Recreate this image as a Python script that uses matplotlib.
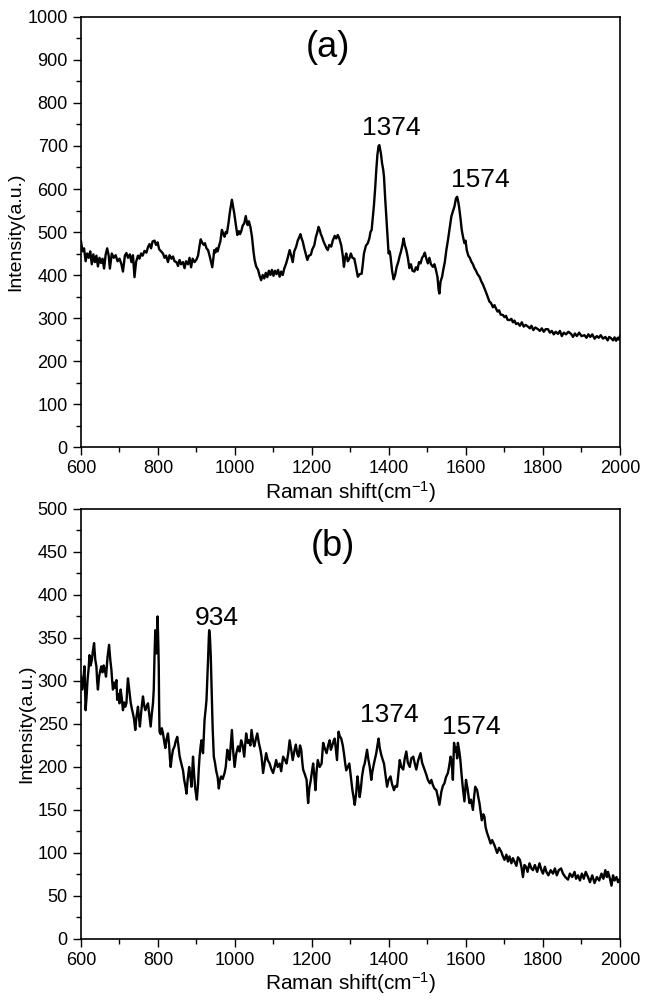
import matplotlib
matplotlib.use("Agg")
import matplotlib.pyplot as plt
from matplotlib.ticker import MultipleLocator

plt.rcParams['font.family'] = ['Liberation Sans', 'DejaVu Sans']
plt.rcParams['mathtext.default'] = 'regular'

# spectrum (a): Raman shift (cm-1), intensity (a.u.)
shift_a = [600, 604, 608, 612, 616, 620, 624, 628, 632, 636, 640, 644, 648, 652, 656, 660, 664, 668, 672, 675,
           680, 685, 690, 695, 700, 705, 709, 714, 718, 722, 727, 731, 735, 739, 743, 748, 752, 756, 760, 765,
           770, 774, 778, 782, 786, 791, 795, 799, 803, 808, 813, 817, 821, 826, 830, 835, 839, 843, 848, 852,
           856, 860, 865, 869, 873, 878, 882, 886, 890, 895, 900, 904, 908, 911, 915, 919, 922, 926, 930, 934,
           938, 941, 944, 946, 949, 952, 955, 958, 962, 966, 970, 973, 976, 979, 983, 987, 990, 992, 995, 998,
           1001, 1004, 1006, 1010, 1013, 1016, 1020, 1024, 1028, 1031, 1033, 1036, 1040, 1044, 1048, 1051, 1055, 1060, 1064, 1068,
           1072, 1076, 1080, 1084, 1088, 1092, 1096, 1100, 1104, 1108, 1112, 1116, 1120, 1124, 1128, 1133, 1137, 1142, 1146, 1150,
           1154, 1159, 1163, 1167, 1170, 1173, 1176, 1180, 1184, 1188, 1192, 1197, 1201, 1206, 1210, 1214, 1217, 1220, 1223, 1226,
           1230, 1234, 1238, 1241, 1245, 1250, 1254, 1259, 1263, 1267, 1271, 1276, 1280, 1283, 1286, 1289, 1293, 1297, 1301, 1305,
           1310, 1314, 1319, 1324, 1329, 1332, 1335, 1340, 1345, 1349, 1352, 1355, 1358, 1361, 1364, 1367, 1370, 1373, 1375, 1377,
           1379, 1382, 1385, 1387, 1390, 1393, 1396, 1399, 1402, 1404, 1408, 1412, 1416, 1420, 1424, 1428, 1431, 1435, 1438, 1441,
           1445, 1449, 1453, 1457, 1461, 1466, 1470, 1474, 1478, 1482, 1486, 1490, 1493, 1497, 1501, 1505, 1509, 1514, 1518, 1522,
           1526, 1529, 1531, 1534, 1538, 1541, 1545, 1549, 1553, 1557, 1562, 1566, 1570, 1574, 1577, 1580, 1582, 1586, 1589, 1592,
           1596, 1599, 1602, 1606, 1610, 1614, 1618, 1622, 1626, 1630, 1635, 1640, 1644, 1648, 1652, 1656, 1661, 1665, 1670, 1674,
           1678, 1682, 1686, 1690, 1696, 1700, 1704, 1708, 1713, 1718, 1722, 1726, 1730, 1735, 1740, 1745, 1750, 1755, 1761, 1766,
           1770, 1775, 1780, 1787, 1792, 1797, 1802, 1807, 1813, 1818, 1823, 1828, 1833, 1839, 1844, 1849, 1854, 1860, 1866, 1873,
           1878, 1883, 1888, 1894, 1900, 1908, 1913, 1918, 1923, 1928, 1934, 1940, 1945, 1950, 1956, 1962, 1968, 1972, 1977, 1982,
           1986, 1990, 1994, 1997, 2000]
int_a = [478, 455, 462, 432, 450, 440, 455, 425, 448, 430, 445, 420, 440, 428, 438, 415, 447, 462, 445, 415,
         450, 440, 446, 432, 438, 425, 408, 445, 451, 440, 448, 430, 446, 395, 430, 445, 438, 450, 445, 456,
         452, 465, 472, 462, 478, 480, 470, 476, 460, 455, 450, 440, 445, 430, 446, 438, 443, 432, 430, 421,
         435, 425, 430, 416, 432, 425, 440, 418, 438, 430, 436, 445, 468, 483, 475, 470, 474, 462, 458, 445,
         430, 418, 440, 458, 452, 462, 455, 466, 478, 505, 495, 489, 500, 497, 520, 548, 565, 575, 560, 544,
         525, 505, 493, 502, 495, 501, 515, 520, 537, 522, 516, 525, 512, 490, 455, 435, 420, 412, 398, 388,
         400, 392, 405, 395, 410, 400, 412, 398, 410, 402, 412, 396, 408, 400, 415, 427, 440, 458, 445, 430,
         455, 466, 480, 488, 495, 485, 478, 462, 448, 435, 445, 447, 460, 469, 488, 500, 512, 505, 495, 489,
         478, 470, 462, 458, 470, 466, 480, 491, 485, 493, 485, 469, 445, 419, 440, 450, 432, 438, 450, 440,
         438, 420, 396, 402, 403, 425, 450, 468, 474, 485, 500, 505, 535, 563, 600, 644, 680, 700, 702, 692,
         683, 660, 645, 629, 580, 536, 490, 450, 455, 443, 410, 390, 400, 419, 430, 445, 454, 470, 485, 470,
         458, 440, 416, 425, 410, 408, 418, 412, 430, 427, 440, 445, 452, 438, 427, 440, 425, 419, 425, 412,
         395, 365, 357, 385, 396, 412, 430, 458, 480, 505, 536, 548, 559, 578, 582, 570, 559, 530, 505, 490,
         474, 480, 458, 445, 440, 431, 425, 416, 410, 402, 396, 385, 378, 369, 360, 350, 338, 335, 325, 330,
         322, 315, 318, 308, 307, 302, 305, 296, 295, 298, 290, 294, 286, 288, 282, 290, 280, 284, 280, 276,
         282, 272, 278, 274, 270, 276, 268, 274, 274, 266, 270, 262, 268, 263, 270, 258, 266, 262, 268, 263,
         256, 264, 258, 266, 258, 260, 254, 262, 256, 262, 252, 258, 254, 260, 252, 256, 248, 256, 253, 248,
         255, 247, 254, 250, 258]

# spectrum (b)
shift_b = [600, 603, 606, 609, 612, 615, 617, 620, 622, 625, 628, 631, 634, 637, 640, 642, 644, 647, 650, 653,
           656, 659, 662, 665, 669, 673, 676, 679, 681, 683, 686, 689, 692, 694, 697, 700, 703, 706, 709, 712,
           715, 718, 720, 722, 724, 726, 729, 732, 735, 738, 741, 744, 748, 750, 753, 756, 759, 761, 764, 767,
           770, 774, 777, 781, 784, 787, 789, 791, 793, 795, 796, 798, 799, 801, 802, 803, 804, 807, 810, 813,
           816, 819, 822, 826, 829, 831, 833, 836, 839, 843, 846, 850, 853, 856, 860, 865, 868, 871, 874, 877,
           881, 884, 887, 889, 891, 894, 897, 899, 901, 904, 906, 908, 911, 913, 915, 917, 919, 921, 924, 926,
           928, 930, 932, 933, 935, 937, 940, 942, 945, 948, 951, 955, 958, 961, 964, 968, 973, 976, 980, 983,
           986, 989, 992, 995, 999, 1003, 1008, 1012, 1016, 1020, 1024, 1029, 1033, 1036, 1040, 1043, 1047, 1050, 1054, 1058,
           1062, 1066, 1069, 1073, 1077, 1081, 1085, 1090, 1094, 1099, 1103, 1107, 1111, 1116, 1120, 1125, 1130, 1134, 1138, 1142,
           1146, 1150, 1154, 1158, 1162, 1165, 1169, 1172, 1175, 1177, 1181, 1186, 1188, 1190, 1193, 1197, 1200, 1203, 1206, 1209,
           1212, 1215, 1220, 1225, 1229, 1233, 1238, 1242, 1246, 1249, 1252, 1256, 1259, 1262, 1265, 1267, 1269, 1272, 1276, 1280,
           1283, 1286, 1289, 1293, 1297, 1301, 1305, 1308, 1311, 1315, 1318, 1321, 1324, 1327, 1330, 1334, 1337, 1340, 1343, 1346,
           1350, 1354, 1357, 1361, 1364, 1367, 1370, 1373, 1376, 1380, 1384, 1387, 1391, 1395, 1399, 1404, 1408, 1413, 1417, 1421,
           1425, 1428, 1432, 1437, 1441, 1445, 1449, 1454, 1458, 1463, 1467, 1471, 1476, 1482, 1486, 1490, 1494, 1497, 1501, 1506,
           1510, 1514, 1518, 1523, 1527, 1531, 1534, 1536, 1540, 1544, 1548, 1553, 1556, 1560, 1563, 1566, 1569, 1572, 1575, 1577,
           1579, 1582, 1585, 1589, 1592, 1596, 1598, 1600, 1604, 1609, 1613, 1618, 1621, 1624, 1629, 1632, 1635, 1638, 1641, 1645,
           1648, 1651, 1655, 1659, 1664, 1668, 1674, 1678, 1681, 1686, 1692, 1696, 1700, 1705, 1709, 1713, 1718, 1722, 1726, 1731,
           1735, 1740, 1744, 1748, 1752, 1756, 1760, 1765, 1770, 1774, 1779, 1785, 1791, 1796, 1800, 1805, 1809, 1814, 1820, 1826,
           1831, 1836, 1841, 1847, 1852, 1858, 1865, 1870, 1876, 1882, 1886, 1891, 1896, 1901, 1906, 1911, 1917, 1922, 1928, 1934,
           1940, 1946, 1952, 1957, 1962, 1966, 1969, 1974, 1978, 1982, 1986, 1991, 1995, 2000]
int_b = [305, 290, 301, 317, 266, 285, 301, 315, 330, 318, 324, 335, 344, 325, 317, 300, 290, 305, 312, 317,
         310, 318, 313, 305, 328, 342, 325, 313, 300, 290, 298, 292, 301, 278, 285, 274, 290, 280, 266, 275,
         270, 274, 290, 303, 295, 286, 275, 268, 262, 255, 243, 258, 270, 260, 247, 262, 275, 282, 272, 266,
         270, 274, 262, 247, 262, 274, 290, 330, 359, 345, 332, 360, 375, 340, 317, 270, 241, 238, 245, 239,
         230, 222, 232, 239, 225, 210, 200, 212, 220, 224, 230, 235, 225, 213, 205, 196, 185, 178, 169, 185,
         200, 190, 177, 195, 212, 190, 174, 168, 162, 180, 198, 212, 225, 231, 222, 216, 235, 255, 268, 278,
         300, 324, 350, 359, 351, 330, 278, 245, 212, 205, 196, 188, 175, 185, 189, 186, 193, 200, 220, 212,
         208, 225, 243, 220, 200, 215, 224, 218, 231, 225, 212, 239, 228, 231, 225, 243, 230, 224, 232, 239,
         228, 220, 212, 193, 205, 216, 208, 204, 198, 193, 200, 208, 200, 204, 195, 212, 208, 204, 215, 231,
         220, 208, 218, 226, 215, 212, 225, 220, 205, 197, 192, 185, 170, 158, 175, 185, 195, 204, 190, 173,
         195, 208, 200, 204, 228, 222, 216, 225, 231, 220, 224, 230, 233, 220, 208, 225, 241, 236, 233, 225,
         216, 205, 196, 200, 204, 188, 173, 165, 156, 170, 189, 178, 165, 175, 189, 200, 204, 212, 220, 210,
         200, 185, 195, 204, 210, 216, 225, 233, 222, 214, 208, 204, 190, 177, 185, 189, 180, 173, 178, 177,
         195, 208, 200, 197, 210, 218, 205, 200, 210, 212, 204, 197, 208, 216, 205, 200, 195, 191, 185, 181,
         185, 179, 175, 173, 165, 156, 165, 171, 178, 181, 188, 193, 200, 212, 205, 185, 228, 218, 223, 210,
         228, 220, 210, 189, 175, 160, 172, 185, 175, 158, 162, 150, 165, 177, 173, 165, 158, 148, 138, 145,
         142, 130, 123, 118, 111, 115, 109, 104, 100, 106, 101, 96, 92, 98, 90, 96, 88, 94, 90, 85,
         95, 92, 84, 72, 86, 84, 78, 88, 82, 80, 86, 78, 88, 80, 76, 84, 78, 74, 80, 76,
         82, 74, 80, 82, 76, 72, 69, 76, 72, 78, 70, 74, 68, 76, 70, 78, 72, 66, 74, 65,
         72, 68, 76, 70, 80, 72, 78, 70, 62, 74, 68, 72, 66, 70]

panels = [
    dict(x=shift_a, y=int_a, ymax=1000, ystep=100, tag='(a)', tag_pos=(1241, 930),
         peaks=[('1374', 1405, 742), ('1574', 1636, 621)]),
    dict(x=shift_b, y=int_b, ymax=500, ystep=50, tag='(b)', tag_pos=(1254, 456),
         peaks=[('934', 952, 373), ('1374', 1400, 260), ('1574', 1615, 247)]),
]

fig = plt.figure(figsize=(6.5, 10.05), dpi=100)
rects = [[0.1246, 0.5552, 0.8292, 0.4279], [0.1246, 0.0657, 0.8292, 0.4279]]

for rect, p in zip(rects, panels):
    ax = fig.add_axes(rect)
    ax.plot(p['x'], p['y'], color='black', lw=1.7)
    ax.set_xlim(600, 2000)
    ax.set_ylim(0, p['ymax'])
    ax.xaxis.set_major_locator(MultipleLocator(200))
    ax.xaxis.set_minor_locator(MultipleLocator(100))
    ax.yaxis.set_major_locator(MultipleLocator(p['ystep']))
    ax.yaxis.set_minor_locator(MultipleLocator(p['ystep'] / 2))
    ax.tick_params(which='both', direction='out', top=False, right=False, labelsize=13, width=1)
    ax.tick_params(which='major', length=6)
    ax.tick_params(which='minor', length=3.5)
    for s in ax.spines.values():
        s.set_linewidth(1.2)
    ax.set_xlabel(r'Raman shift(cm$^{-1}$)', fontsize=15, labelpad=1)
    ax.set_ylabel('Intensity(a.u.)', fontsize=14, labelpad=2)
    ax.text(p['tag_pos'][0], p['tag_pos'][1], p['tag'], fontsize=26, ha='center', va='center')
    for lab, px, py in p['peaks']:
        ax.text(px, py, lab, fontsize=19, ha='center', va='center')

fig.savefig('out.png', dpi=100)
